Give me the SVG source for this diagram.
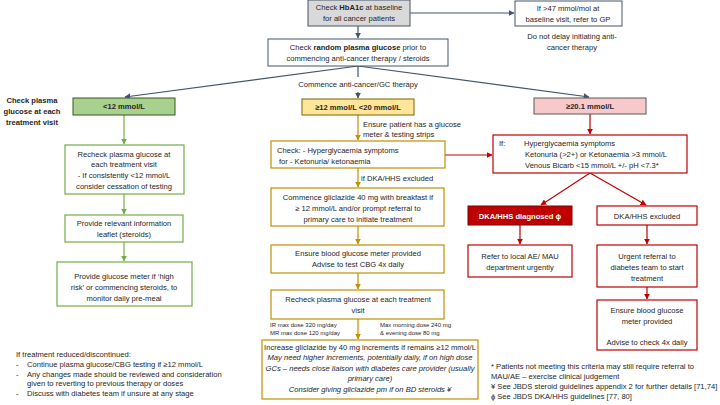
<svg xmlns="http://www.w3.org/2000/svg" width="720" height="405" viewBox="0 0 720 405">
<defs>
<marker id="ab" viewBox="0 0 10 10" refX="9" refY="5" markerWidth="5" markerHeight="5" orient="auto"><path d="M0,0L10,5L0,10z" fill="#44546a"/></marker>
<marker id="ag" viewBox="0 0 10 10" refX="9" refY="5" markerWidth="5" markerHeight="5" orient="auto"><path d="M0,0L10,5L0,10z" fill="#70ad47"/></marker>
<marker id="ay" viewBox="0 0 10 10" refX="9" refY="5" markerWidth="5" markerHeight="5" orient="auto"><path d="M0,0L10,5L0,10z" fill="#bf9000"/></marker>
<marker id="ar" viewBox="0 0 10 10" refX="9" refY="5" markerWidth="5" markerHeight="5" orient="auto"><path d="M0,0L10,5L0,10z" fill="#c00000"/></marker>
</defs>
<style>
text{font-family:"Liberation Sans",Arial,sans-serif;font-size:7.6px;fill:#262626}
.c{text-anchor:middle}
.b{font-weight:bold}
.i{font-style:italic}
.s{font-size:6px}
.bl{fill:#fff;stroke:#44546a;stroke-width:1}
.gr{fill:#fff;stroke:#70ad47;stroke-width:1.2}
.ye{fill:#fff;stroke:#bf9000;stroke-width:1.2}
.re{fill:#fff;stroke:#c00000;stroke-width:1.2}
.lb{stroke:#44546a;stroke-width:1.2;fill:none}
.lg{stroke:#70ad47;stroke-width:1.2;fill:none}
.ly{stroke:#bf9000;stroke-width:1.2;fill:none}
.lr{stroke:#c00000;stroke-width:1.2;fill:none}
</style>
<rect width="720" height="405" fill="#fff"/>
<g id="connectors">
<line class="lb" x1="358" y1="26" x2="358" y2="38" marker-end="url(#ab)"/>
<line class="lb" x1="410" y1="13" x2="514" y2="13" marker-end="url(#ab)"/>
<line class="lb" x1="358" y1="66" x2="358" y2="77"/>
<line class="lb" x1="358" y1="92" x2="358" y2="98" marker-end="url(#ab)"/>
<line class="lb" x1="358" y1="66" x2="125" y2="97" marker-end="url(#ab)"/>
<line class="lb" x1="358" y1="66" x2="589" y2="97" marker-end="url(#ab)"/>
<line class="lg" x1="124" y1="115" x2="124" y2="144" marker-end="url(#ag)"/>
<line class="lg" x1="124" y1="194" x2="124" y2="214" marker-end="url(#ag)"/>
<line class="lg" x1="124" y1="242" x2="124" y2="261" marker-end="url(#ag)"/>
<line class="ly" x1="358" y1="115" x2="358" y2="140" marker-end="url(#ay)"/>
<line class="ly" x1="358" y1="168" x2="358" y2="187" marker-end="url(#ay)"/>
<line class="ly" x1="358" y1="226" x2="358" y2="244" marker-end="url(#ay)"/>
<line class="ly" x1="358" y1="273" x2="358" y2="289" marker-end="url(#ay)"/>
<line class="ly" x1="358" y1="319" x2="358" y2="339" marker-end="url(#ay)"/>
<line class="lr" x1="445" y1="155" x2="492" y2="155" marker-end="url(#ar)"/>
<line class="lr" x1="590" y1="114" x2="590" y2="134" marker-end="url(#ar)"/>
<line class="lr" x1="590" y1="173" x2="541" y2="205" marker-end="url(#ar)"/>
<line class="lr" x1="590" y1="173" x2="646" y2="205" marker-end="url(#ar)"/>
<line class="lr" x1="520" y1="225" x2="520" y2="244" marker-end="url(#ar)"/>
<line class="lr" x1="647" y1="225" x2="647" y2="244" marker-end="url(#ar)"/>
<line class="lr" x1="647" y1="287" x2="647" y2="299" marker-end="url(#ar)"/>
</g>
<g id="hba1c"><rect x="308" y="0" width="102" height="26" fill="#d9d9d9" stroke="#44546a"/><text class="c" x="359" y="10">Check <tspan class="b">HbA1c</tspan> at baseline</text><text class="c" x="359" y="21">for all cancer patients</text></g>
<g id="gp"><rect class="bl" x="515" y="1" width="107" height="25"/><text class="c" x="568" y="11">If &gt;47 mmol/mol at</text><text class="c" x="568" y="22">baseline visit, refer to GP</text></g>
<g id="nodelay"><text class="c" x="572" y="39">Do not delay initiating anti-</text><text class="c" x="572" y="50">cancer therapy</text></g>
<g id="random"><rect class="bl" x="268" y="39" width="180" height="27"/><text class="c" x="358" y="50">Check <tspan class="b">random plasma glucose</tspan> prior to</text><text class="c" x="358" y="61">commencing anti-cancer therapy / steroids</text></g>
<g id="commence"><text class="c" x="358" y="87">Commence anti-cancer/GC therapy</text></g>
<g id="leftlabel"><text class="c b" x="32" y="103">Check plasma</text><text class="c b" x="32" y="114">glucose at each</text><text class="c b" x="32" y="125">treatment visit</text></g>
<g id="lt12"><rect x="73" y="98" width="102" height="17" fill="#a9d18e" stroke="#375623"/><text class="c b" x="124" y="109">&lt;12 mmol/L</text></g>
<g id="mid"><rect x="302" y="99" width="112" height="16" fill="#ffe699" stroke="#7f6000"/><text class="c b" x="358" y="110">≥12 mmol/L &lt;20 mmol/L</text></g>
<g id="ge20"><rect x="534" y="98" width="112" height="16" fill="#f8c9cb" stroke="#595959"/><text class="c b" x="590" y="109">≥20.1 mmol/L</text></g>
<g id="g1"><rect class="gr" x="65" y="145" width="119" height="49"/><text class="c" x="124" y="157">Recheck plasma glucose at</text><text class="c" x="124" y="167">each treatment visit</text><text class="c" x="124" y="178">- If consistently &lt;12 mmol/L</text><text class="c" x="124" y="189">consider cessation of testing</text></g>
<g id="g2"><rect class="gr" x="65" y="215" width="118" height="27"/><text class="c" x="124" y="226">Provide relevant information</text><text class="c" x="124" y="237">leaflet (steroids)</text></g>
<g id="g3"><rect class="gr" x="57" y="262" width="135" height="44"/><text class="c" x="124" y="279">Provide glucose meter if ‘high</text><text class="c" x="124" y="290">risk’ or commencing steroids, to</text><text class="c" x="124" y="301">monitor daily pre-meal</text></g>
<g id="ensurepat"><text x="363" y="127" font-size="6.6">Ensure patient has a glucose</text><text x="363" y="137" font-size="6.6">meter &amp; testing strips</text></g>
<g id="y1"><rect class="ye" x="271" y="141" width="174" height="27"/><text x="277" y="153">Check:  -  Hyperglycaemia symptoms</text><text x="279" y="164">for        - Ketonuria/ ketonaemia</text></g>
<g id="excl"><text x="361" y="181">if DKA/HHS excluded</text></g>
<g id="y2"><rect class="ye" x="271" y="188" width="173" height="38"/><text class="c" x="358" y="200">Commence gliclazide 40 mg with breakfast if</text><text class="c" x="358" y="211">≥ 12 mmol/L and/or prompt referral to</text><text class="c" x="358" y="222">primary care to initiate treatment</text></g>
<g id="y3"><rect class="ye" x="271" y="245" width="173" height="28"/><text class="c" x="358" y="256">Ensure blood glucose meter provided</text><text class="c" x="358" y="267">Advise to test CBG 4x daily</text></g>
<g id="y4"><rect class="ye" x="271" y="290" width="173" height="29"/><text class="c" x="358" y="302">Recheck plasma glucose at each treatment</text><text class="c" x="358" y="313">visit</text></g>
<g id="doses"><text class="s" x="270" y="327">IR max dose 320 mg/day</text><text class="s" x="270" y="335">MR max dose 120 mg/day</text><text class="s" x="380" y="327">Max morning dose 240 mg</text><text class="s" x="380" y="335">&amp; evening dose 80 mg</text></g>
<g id="y5"><rect class="ye" x="262" y="340" width="216" height="59"/><text class="c" x="370" y="350">Increase gliclazide by 40 mg increments if remains ≥12 mmol/L</text><text class="c i" x="370" y="360">May need higher increments, potentially daily, if on high dose</text><text class="c i" x="370" y="371">GCs – needs close liaison with diabetes care provider (usually</text><text class="c i" x="370" y="381">primary care)</text><text class="c i" x="370" y="392">Consider giving gliclazide pm if on BD steroids ¥</text></g>
<g id="r1"><rect class="re" x="493" y="135" width="194" height="38"/><text x="499" y="146">If:</text><text x="524" y="146">Hyperglycaemia symptoms</text><text x="525" y="157">Ketonuria (&gt;2+) or Ketonaemia &gt;3 mmol/L</text><text x="525" y="168">Venous Bicarb &lt;15 mmol/L  +/- pH &lt;7.3*</text></g>
<g id="r2"><rect x="468" y="206" width="104" height="19" fill="#c00000" stroke="#7f0000"/><text class="c b" x="520" y="219" style="fill:#fff">DKA/HHS diagnosed ɸ</text></g>
<g id="r3"><rect class="re" x="597" y="206" width="100" height="19"/><text class="c" x="647" y="219">DKA/HHS excluded</text></g>
<g id="r4"><rect class="re" x="468" y="245" width="104" height="32"/><text class="c" x="520" y="259">Refer to local AE/ MAU</text><text class="c" x="520" y="270">department urgently</text></g>
<g id="r5"><rect class="re" x="597" y="245" width="100" height="42"/><text class="c" x="647" y="259">Urgent referral to</text><text class="c" x="647" y="270">diabetes team to start</text><text class="c" x="647" y="281">treatment</text></g>
<g id="r6"><rect class="re" x="597" y="300" width="100" height="50"/><text class="c" x="647" y="313">Ensure blood glucose</text><text class="c" x="647" y="324">meter provided</text><text class="c" x="647" y="345">Advise to check 4x daily</text></g>
<g id="foot"><text x="491" y="369" font-size="6.8">* Patients not meeting this criteria may still require referral to</text><text x="491" y="379" font-size="6.8">MAU/AE – exercise clinical judgement</text><text x="491" y="389" font-size="6.8">¥ See JBDS steroid guidelines appendix 2 for further details [71,74]</text><text x="491" y="399" font-size="6.8">ɸ See JBDS DKA/HHS guidelines [77, 80]</text></g>
<g id="leftnote"><text x="16" y="357" font-size="6.8">If treatment reduced/discontinued:</text><text x="16" y="367" font-size="6.8">-</text><text x="27" y="367" font-size="6.8">Continue plasma glucose/CBG testing if ≥12 mmol/L</text><text x="16" y="377" font-size="6.8">-</text><text x="27" y="377" font-size="6.8">Any changes made should be reviewed and consideration</text><text x="27" y="386" font-size="6.8">given to reverting to previous therapy or doses</text><text x="16" y="396" font-size="6.8">-</text><text x="27" y="396" font-size="6.8">Discuss with diabetes team if unsure at any stage</text></g>
</svg>
